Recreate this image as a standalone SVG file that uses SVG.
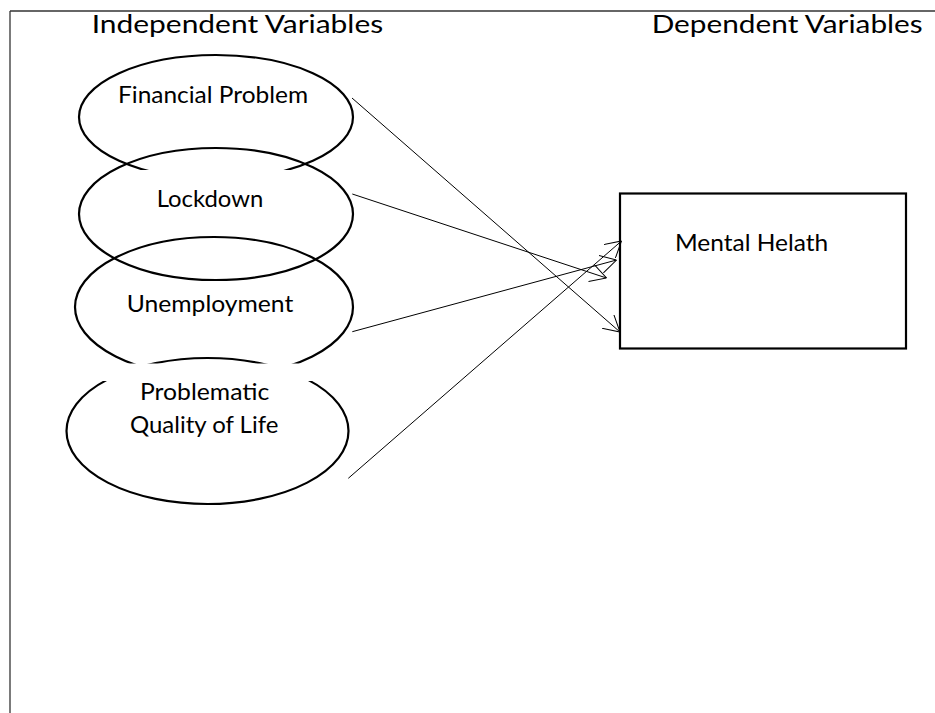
<svg xmlns="http://www.w3.org/2000/svg" width="935" height="713" viewBox="0 0 935 713">
<style>
.frame{stroke:#333;stroke-width:1.3;fill:none}
.node{fill:none;stroke:#000;stroke-width:2.2}
.mask{fill:#fff;stroke:none}
.lbl{font-family:Lato,"Open Sans","Liberation Sans",sans-serif;font-size:23px;fill:#000}
.hdr{font-size:25px}
.conn{stroke:#000;stroke-width:1;fill:none;marker-end:url(#arr)}
</style>
<defs>
<marker id="arr" viewBox="0 0 16 18" refX="16" refY="9" markerWidth="16" markerHeight="18" orient="auto" markerUnits="userSpaceOnUse">
<path d="M0,0 L16,9 L0,18" fill="none" stroke="#000" stroke-width="1"/>
</marker>
</defs>
<rect width="935" height="713" fill="#fff"/>
<g id="frame">
<line class="frame" x1="10" y1="11" x2="935" y2="11"/>
<line class="frame" x1="10" y1="11" x2="10" y2="713"/>
</g>
<g id="headers">
<text class="lbl hdr" x="91.7" y="32.8" textLength="291.5" lengthAdjust="spacingAndGlyphs">Independent Variables</text>
<text class="lbl hdr" x="651.7" y="32.6" textLength="271" lengthAdjust="spacingAndGlyphs">Dependent Variables</text>
</g>
<g id="financial">
<ellipse class="node" cx="216" cy="117" rx="137" ry="62"/>
</g>
<g id="lockdown">
<ellipse class="node" cx="216" cy="214" rx="137" ry="66"/>
<rect class="mask" x="125" y="170" width="180" height="62"/>
<text class="lbl" x="156.7" y="206.7" textLength="106.6" lengthAdjust="spacingAndGlyphs">Lockdown</text>
</g>
<g id="financial-label">
<text class="lbl" x="118" y="102.7" textLength="190" lengthAdjust="spacingAndGlyphs">Financial Problem</text>
</g>
<g id="unemployment">
<ellipse class="node" cx="214" cy="307" rx="139" ry="70"/>
<text class="lbl" x="126.7" y="311.7" textLength="166.6" lengthAdjust="spacingAndGlyphs">Unemployment</text>
</g>
<g id="quality">
<ellipse class="node" cx="207.5" cy="431" rx="141" ry="73"/>
<rect class="mask" x="92" y="363.5" width="232" height="17.5"/>
<text class="lbl" x="140" y="400" textLength="129.3" lengthAdjust="spacingAndGlyphs">Problematic</text>
<text class="lbl" x="130" y="433.3" textLength="148.3" lengthAdjust="spacingAndGlyphs">Quality of Life</text>
</g>
<g id="mental-health">
<rect class="node" x="620" y="193.5" width="286" height="155" fill="#fff"/>
<text class="lbl" x="675" y="250.7" textLength="153.3" lengthAdjust="spacingAndGlyphs">Mental Helath</text>
</g>
<g id="connectors">
<line class="conn" x1="352" y1="98" x2="620" y2="332"/>
<line class="conn" x1="352.3" y1="194" x2="606.5" y2="278"/>
<line class="conn" x1="352.3" y1="331.7" x2="616.5" y2="260"/>
<line class="conn" x1="348.3" y1="478.3" x2="621.5" y2="241"/>
</g>
</svg>
